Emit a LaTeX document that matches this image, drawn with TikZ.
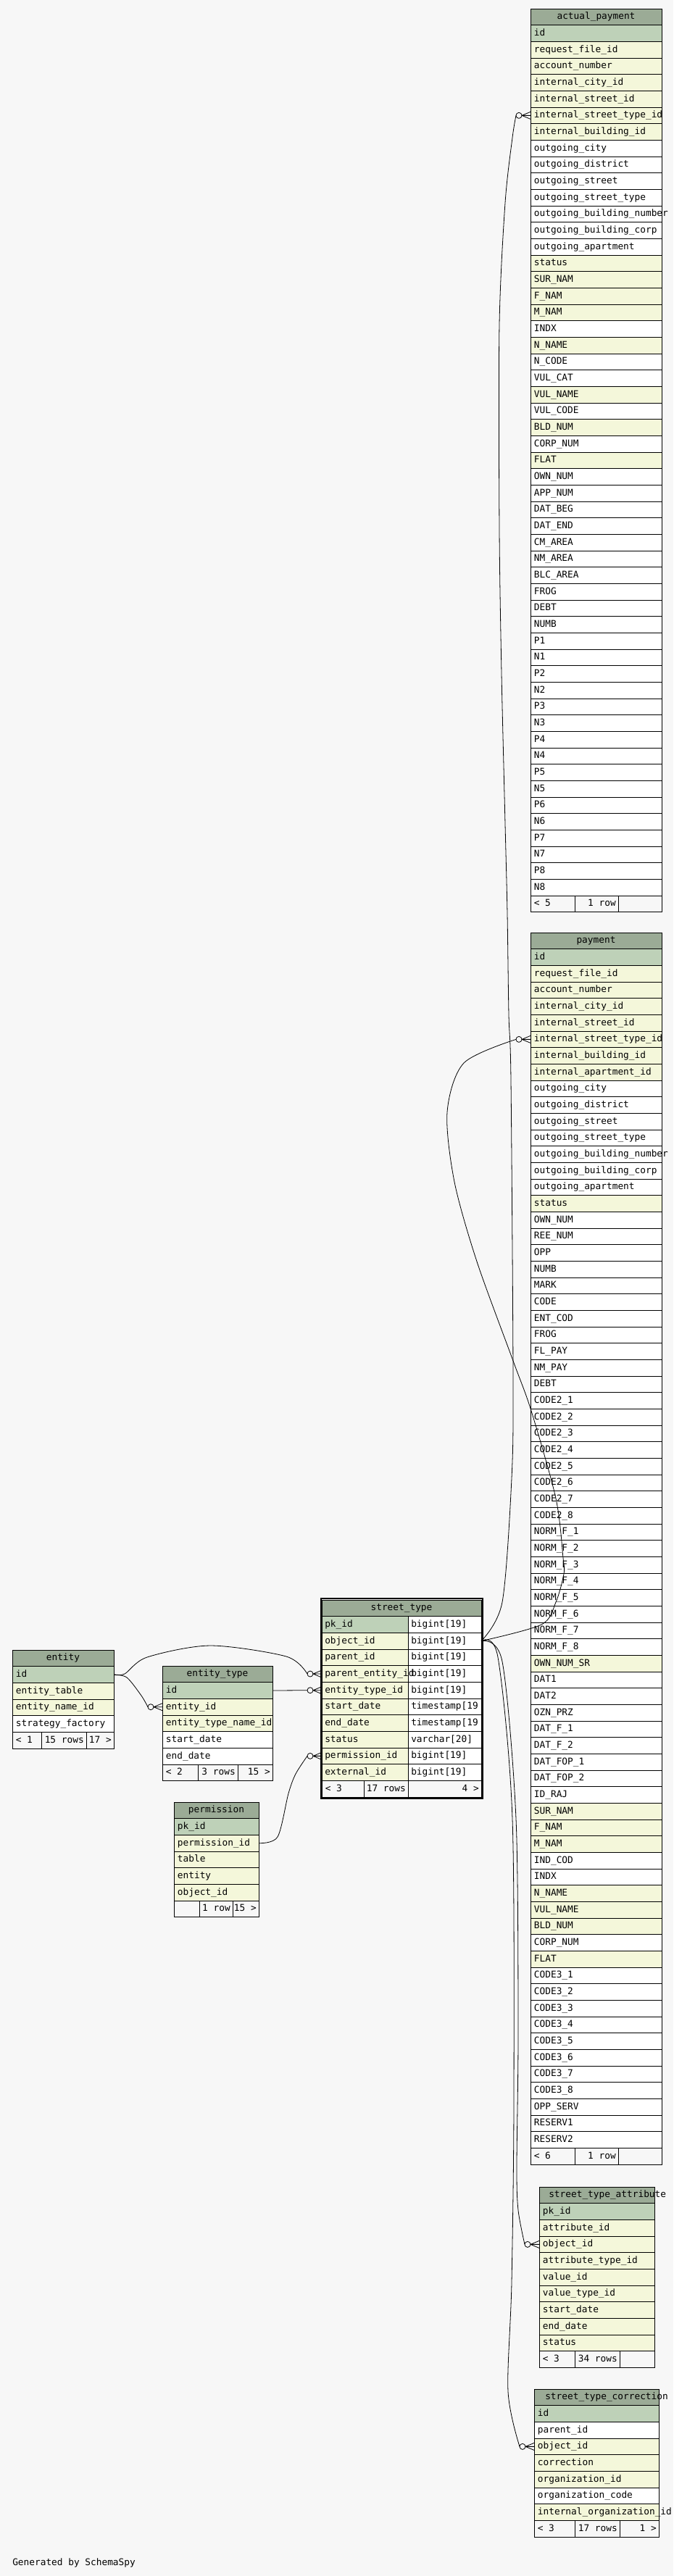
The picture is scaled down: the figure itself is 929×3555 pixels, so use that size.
\documentclass[tikz,border=0pt]{standalone}
\usepackage{fontspec}
\setmainfont{DejaVu Sans Mono}
\usetikzlibrary{calc}
\definecolor{bgcol}{HTML}{F7F7F7}
\definecolor{hdrcol}{HTML}{9BAB96}
\definecolor{pk}{HTML}{BED1B8}
\definecolor{ix}{HTML}{F4F7DA}
\definecolor{wt}{HTML}{FFFFFF}

% open circle + crow's foot in front of a column
\newcommand{\crowdot}[1]{%
  \draw[rel, fill=bgcol] ([xshift=-12pt]#1) circle (3pt);
  \draw[rel] ([xshift=-9pt]#1) -- ([yshift=3.75pt]#1)
             ([xshift=-9pt]#1) -- (#1)
             ([xshift=-9pt]#1) -- ([yshift=-3.75pt]#1);
}
% footer line of a table: x0 x1 x2 x3 ytop text1 text2 text3
\newcommand{\dbfoot}[8]{%
  \draw[wire, fill=bgcol] (#1,#5) rectangle (#4,#5+22.67);
  \draw[wire] (#2,#5) -- (#2,#5+22.67) (#3,#5) -- (#3,#5+22.67);
  \node[txt, anchor=west] at (#1+4.5,#5+11.33) {#6};
  \node[txt, anchor=east] at (#3-3,#5+11.33) {#7};
  \node[txt, anchor=east] at (#4-3,#5+11.33) {#8};
}

\begin{document}
\catcode`\_=12
\begin{tikzpicture}[x=0.75pt, y=-0.75pt, font=\fontsize{9.6pt}{11pt}\selectfont,
  wire/.style={line width=0.75pt},
  cell/.style={wire, draw, inner sep=0pt, outer sep=0pt, minimum height=17pt, anchor=north west},
  txt/.style={inner sep=0pt, text height=7pt, text depth=2pt},
  hdr/.style={cell, fill=hdrcol, text height=7pt, text depth=2pt},
  rel/.style={line width=0.6pt}]
\fill[bgcol] (0,0) rectangle (929,3555);
\useasboundingbox (0,0) rectangle (929,3555);

% actual_payment
\node[hdr, minimum width=135.75pt] (ap) at (732,12) {actual_payment};
\foreach \c/\f [count=\i] in {id/pk, request_file_id/ix, account_number/ix,
  internal_city_id/ix, internal_street_id/ix, internal_street_type_id/ix,
  internal_building_id/ix, outgoing_city/wt, outgoing_district/wt,
  outgoing_street/wt, outgoing_street_type/wt, outgoing_building_number/wt,
  outgoing_building_corp/wt, outgoing_apartment/wt, status/ix, SUR_NAM/ix,
  F_NAM/ix, M_NAM/ix, INDX/wt, N_NAME/ix, N_CODE/wt, VUL_CAT/wt, VUL_NAME/ix,
  VUL_CODE/wt, BLD_NUM/ix, CORP_NUM/wt, FLAT/ix, OWN_NUM/wt, APP_NUM/wt,
  DAT_BEG/wt, DAT_END/wt, CM_AREA/wt, NM_AREA/wt, BLC_AREA/wt, FROG/wt,
  DEBT/wt, NUMB/wt, P1/wt, N1/wt, P2/wt, N2/wt, P3/wt, N3/wt, P4/wt, N4/wt,
  P5/wt, N5/wt, P6/wt, N6/wt, P7/wt, N7/wt, P8/wt, N8/wt} {
  \node[cell, fill=\f, minimum width=135.75pt] (ap-\c) at (732,{12+\i*22.67}) {};
  \node[txt, anchor=west] at ([xshift=3.5pt]ap-\c.west) {\c};
}
\dbfoot{732}{793}{853}{913}{1236.2}{< 5}{1 row}{}

% payment
\node[hdr, minimum width=135.75pt] (pm) at (732,1287) {payment};
\foreach \c/\f [count=\i] in {id/pk, request_file_id/ix, account_number/ix,
  internal_city_id/ix, internal_street_id/ix, internal_street_type_id/ix,
  internal_building_id/ix, internal_apartment_id/ix, outgoing_city/wt,
  outgoing_district/wt, outgoing_street/wt, outgoing_street_type/wt,
  outgoing_building_number/wt, outgoing_building_corp/wt, outgoing_apartment/wt,
  status/ix, OWN_NUM/wt, REE_NUM/wt, OPP/wt, NUMB/wt, MARK/wt, CODE/wt,
  ENT_COD/wt, FROG/wt, FL_PAY/wt, NM_PAY/wt, DEBT/wt, CODE2_1/wt, CODE2_2/wt,
  CODE2_3/wt, CODE2_4/wt, CODE2_5/wt, CODE2_6/wt, CODE2_7/wt, CODE2_8/wt,
  NORM_F_1/wt, NORM_F_2/wt, NORM_F_3/wt, NORM_F_4/wt, NORM_F_5/wt, NORM_F_6/wt,
  NORM_F_7/wt, NORM_F_8/wt, OWN_NUM_SR/ix, DAT1/wt, DAT2/wt, OZN_PRZ/wt,
  DAT_F_1/wt, DAT_F_2/wt, DAT_FOP_1/wt, DAT_FOP_2/wt, ID_RAJ/wt, SUR_NAM/ix,
  F_NAM/ix, M_NAM/ix, IND_COD/wt, INDX/wt, N_NAME/ix, VUL_NAME/ix, BLD_NUM/ix,
  CORP_NUM/wt, FLAT/ix, CODE3_1/wt, CODE3_2/wt, CODE3_3/wt, CODE3_4/wt,
  CODE3_5/wt, CODE3_6/wt, CODE3_7/wt, CODE3_8/wt, OPP_SERV/wt, RESERV1/wt,
  RESERV2/wt} {
  \node[cell, fill=\f, minimum width=135.75pt] (pm-\c) at (732,{1287+\i*22.67}) {};
  \node[txt, anchor=west] at ([xshift=3.5pt]pm-\c.west) {\c};
}
\dbfoot{732}{793}{853}{913}{2964.6}{< 6}{1 row}{}

% street_type
\node[hdr, minimum width=165pt] (st) at (444,2208) {street_type};
\foreach \c/\f/\t [count=\i] in {pk_id/pk/bigint[19], object_id/ix/bigint[19],
  parent_id/ix/bigint[19], parent_entity_id/ix/bigint[19],
  entity_type_id/ix/bigint[19], start_date/ix/timestamp[19,
  end_date/ix/timestamp[19, status/ix/varchar[20], permission_id/ix/bigint[19],
  external_id/ix/bigint[19]} {
  \node[cell, fill=\f, minimum width=89.25pt] (st-\c) at (444,{2208+\i*22.67}) {};
  \node[cell, fill=wt, minimum width=75.75pt] (st-\c-t) at (563,{2208+\i*22.67}) {};
  \node[txt, anchor=west] at ([xshift=3pt]st-\c.west) {\c};
  \node[txt, anchor=west] at ([xshift=3pt]st-\c-t.west) {\t};
}
\dbfoot{444}{502}{563}{664}{2457.4}{< 3}{17 rows}{4 >}
\draw[line width=1.8pt] (443.2,2206.2) rectangle (665.8,2481.8);

% entity
\node[hdr, minimum width=105pt] (en) at (17,2277) {entity};
\foreach \c/\f [count=\i] in {id/pk, entity_table/ix, entity_name_id/ix,
  strategy_factory/wt} {
  \node[cell, fill=\f, minimum width=105pt] (en-\c) at (17,{2277+\i*22.67}) {};
  \node[txt, anchor=west] at ([xshift=3.5pt]en-\c.west) {\c};
}
\dbfoot{17}{57}{119}{157}{2390.4}{< 1}{15 rows}{17 >}

% entity_type
\node[hdr, minimum width=114pt] (et) at (224,2299) {entity_type};
\foreach \c/\f [count=\i] in {id/pk, entity_id/ix, entity_type_name_id/ix,
  start_date/wt, end_date/wt} {
  \node[cell, fill=\f, minimum width=114pt] (et-\c) at (224,{2299+\i*22.67}) {};
  \node[txt, anchor=west] at ([xshift=3.5pt]et-\c.west) {\c};
}
\dbfoot{224}{273}{328}{376}{2435}{< 2}{3 rows}{15 >}

% permission
\node[hdr, minimum width=87.75pt] (pe) at (240,2487) {permission};
\foreach \c/\f [count=\i] in {pk_id/pk, permission_id/ix, table/ix, entity/ix,
  object_id/ix} {
  \node[cell, fill=\f, minimum width=87.75pt] (pe-\c) at (240,{2487+\i*22.67}) {};
  \node[txt, anchor=west] at ([xshift=3.5pt]pe-\c.west) {\c};
}
\dbfoot{240}{275}{321}{357}{2623}{}{1 row}{15 >}

% street_type_attribute
\node[hdr, minimum width=119.25pt] (sa) at (744,3018) {};
\node[txt, anchor=west] at (757,3029.3) {street_type_attribute};
\foreach \c/\f [count=\i] in {pk_id/pk, attribute_id/ix, object_id/ix,
  attribute_type_id/ix, value_id/ix, value_type_id/ix, start_date/ix,
  end_date/ix, status/ix} {
  \node[cell, fill=\f, minimum width=119.25pt] (sa-\c) at (744,{3018+\i*22.67}) {};
  \node[txt, anchor=west] at ([xshift=3.5pt]sa-\c.west) {\c};
}
\dbfoot{744}{793}{855}{903}{3244.7}{< 3}{34 rows}{}

% street_type_correction
\node[hdr, minimum width=129pt] (sc) at (737,3297) {};
\node[txt, anchor=west] at (752,3308.3) {street_type_correction};
\foreach \c/\f [count=\i] in {id/pk, parent_id/wt, object_id/ix, correction/ix,
  organization_id/ix, organization_code/wt, internal_organization_id/ix} {
  \node[cell, fill=\f, minimum width=129pt] (sc-\c) at (737,{3297+\i*22.67}) {};
  \node[txt, anchor=west] at ([xshift=3.5pt]sc-\c.west) {\c};
}
\dbfoot{737}{793}{855}{909}{3478.4}{< 3}{17 rows}{1 >}

% relations
\draw[rel] plot[smooth, tension=0.5] coordinates {(st-object_id-t.east)
  (693,2211) (706,2040) (708,1900) (705,1491) (702,1400) (700,1261) (697,1137)
  (692,929) (689,730) (689,448) (697,280) (707,190)
  ([xshift=-15pt]ap-internal_street_type_id.west)};
\crowdot{ap-internal_street_type_id.west}
\draw[rel] plot[smooth, tension=0.5] coordinates {(st-object_id-t.east)
  (747,2242) (767,2211) (778,2172) (777,2150) (767,2068) (733,1947) (708,1878)
  (658,1741) (627,1631) (617,1535) (640,1467)
  ([xshift=-15pt]pm-internal_street_type_id.west)};
\crowdot{pm-internal_street_type_id.west}
\draw[rel] plot[smooth, tension=0.5] coordinates {(st-object_id-t.east)
  (693,2293) (712,2510) (715,2800) (713,2990) (715,3050)
  ([xshift=-15pt]sa-object_id.west)};
\crowdot{sa-object_id.west}
\draw[rel] plot[smooth, tension=0.5] coordinates {(st-object_id-t.east)
  (687,2287) (707,2510) (709,2900) (706,3150) (701,3300)
  ([xshift=-15pt]sc-object_id.west)};
\crowdot{sc-object_id.west}
\draw[rel] plot[smooth, tension=0.5] coordinates {(en-id.east)
  (172,2310) (203,2287) (290,2271) (395,2286)
  ([xshift=-15pt]st-parent_entity_id.west)};
\crowdot{st-parent_entity_id.west}
\draw[rel] plot[smooth, tension=0.5] coordinates {(en-id.east)
  (175,2315) (195,2340) ([xshift=-15pt]et-entity_id.west)};
\crowdot{et-entity_id.west}
\draw[rel] (et-id.east) -- ([xshift=-15pt]st-entity_type_id.west);
\crowdot{st-entity_type_id.west}
\draw[rel] plot[smooth, tension=0.5] coordinates {(pe-permission_id.east)
  (383,2535) (398,2475) (408,2448) ([xshift=-15pt]st-permission_id.west)};
\crowdot{st-permission_id.west}

\node[txt, anchor=west] (credit) at (17,3537) {Generated by SchemaSpy};
\end{tikzpicture}
\end{document}
